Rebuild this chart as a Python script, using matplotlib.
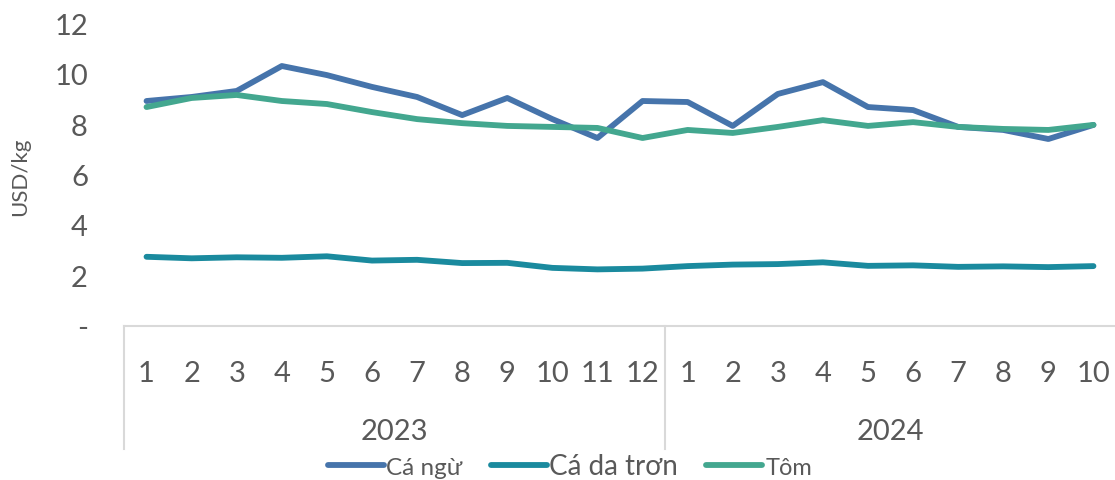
import matplotlib
matplotlib.use("Agg")
import matplotlib.pyplot as plt
import numpy as np

# dữ liệu giá (USD/kg), tháng 1/2023 - 10/2024
months = [1, 2, 3, 4, 5, 6, 7, 8, 9, 10, 11, 12, 1, 2, 3, 4, 5, 6, 7, 8, 9, 10]
years = ["2023", "2024"]
year_len = [12, 10]

ca_ngu = [8.92, 9.08, 9.32, 10.31, 9.95, 9.48, 9.08, 8.36, 9.04, 8.2, 7.45, 8.92,
          8.88, 7.93, 9.2, 9.67, 8.68, 8.56, 7.89, 7.77, 7.41, 7.97]
ca_da_tron = [2.73, 2.67, 2.71, 2.69, 2.75, 2.58, 2.61, 2.48, 2.49, 2.29, 2.23, 2.26,
              2.36, 2.42, 2.44, 2.51, 2.37, 2.39, 2.33, 2.35, 2.32, 2.36]
tom = [8.68, 9.04, 9.16, 8.92, 8.8, 8.48, 8.2, 8.04, 7.93, 7.89, 7.85, 7.45,
       7.77, 7.65, 7.89, 8.16, 7.93, 8.08, 7.89, 7.81, 7.77, 7.97]

series = [("Cá ngừ", ca_ngu, "#4674AB"),
          ("Cá da trơn", ca_da_tron, "#1A8A9E"),
          ("Tôm", tom, "#43A78F")]

plt.rcParams['font.family'] = ['Lato', 'DejaVu Sans']
grey = "#595959"
line_grey = "#D9D9D9"

fig = plt.figure(figsize=(11.15, 4.81), dpi=100)
ax = fig.add_axes([0.1112, 0.3212, 0.8897, 0.6279])

x = np.arange(len(months))
handles = []
for name, vals, col in series:
    h, = ax.plot(x, vals, color=col, lw=4.2, label=name, solid_capstyle='round',
                 solid_joinstyle='round')
    handles.append(h)

ax.set_xlim(-0.5, len(months) - 0.5)
ax.set_ylim(0, 12)
ax.set_yticks(np.arange(0, 13, 2))
ax.set_yticklabels(["-"] + [str(v) for v in range(2, 13, 2)])
ax.set_xticks(x)
ax.set_xticklabels([str(m) for m in months])
ax.tick_params(axis='y', length=0, pad=26, labelsize=21, labelcolor=grey)
ax.tick_params(axis='x', length=0, pad=25, labelsize=21, labelcolor=grey)

for s in ["left", "right", "top"]:
    ax.spines[s].set_visible(False)
ax.spines["bottom"].set_color(line_grey)
ax.spines["bottom"].set_linewidth(1.5)

fig.text(20 / 1115, 1 - 177 / 481, "USD/kg", rotation=90, ha='center', va='center',
         fontsize=16, color=grey)

# nhóm năm dưới trục x
trans = ax.get_xaxis_transform()
bounds = [-0.5]
for n in year_len:
    bounds.append(bounds[-1] + n)
for b in bounds[:-1]:
    ax.plot([b, b], [0, -0.41], transform=trans, color=line_grey, lw=1.5, clip_on=False)
for i, yr in enumerate(years):
    mid = (bounds[i] + bounds[i + 1]) / 2
    ax.text(mid, -0.35, yr, transform=trans, ha='center', va='center',
            fontsize=21, color=grey)

leg = fig.legend(handles=handles, loc='center', bbox_to_anchor=(0.511, 0.03),
                 ncol=3, frameon=False, handlelength=2.3, handletextpad=0.12,
                 columnspacing=1.15, fontsize=17.5, borderpad=0, borderaxespad=0)
sizes = [17.5, 20, 17]
for t, s in zip(leg.get_texts(), sizes):
    t.set_fontsize(s)
    t.set_color(grey)

fig.savefig("out.png", dpi=100)
